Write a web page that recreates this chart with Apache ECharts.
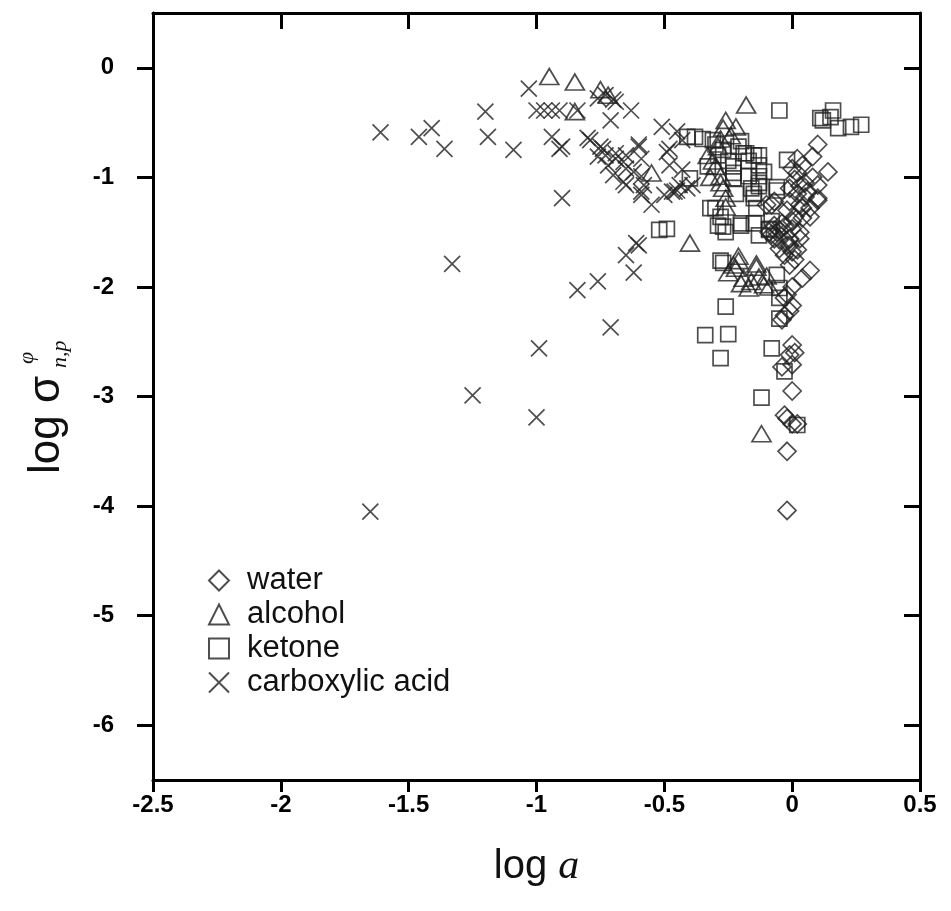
<!DOCTYPE html>
<html>
<head>
<meta charset="utf-8">
<script src="https://cdn.jsdelivr.net/npm/echarts@6/dist/echarts.min.js"></script>
<style>
  html, body { margin: 0; padding: 0; background: #fff; }
  #chart { width: 951px; height: 911px; }
</style>
</head>
<body>
<div id="chart"></div>
<script>
// Tick values for both axes
const xTicks = [-2.5, -2, -1.5, -1, -0.5, 0, 0.5];
const yTicks = [-6, -5, -4, -3, -2, -1, 0];

const seriesNames = ['water', 'alcohol', 'ketone', 'carboxylic acid'];

// [log a, log sigma] pairs per solvent class
const water = [
  [0.10, -0.70], [0.08, -0.81], [0.14, -0.95], [0.04, -0.89], [0.02, -0.96], [0.10, -1.07],
  [0.01, -1.02], [0.10, -1.21], [-0.01, -1.10], [0.06, -1.13], [0.04, -1.28], [0.07, -1.36],
  [0.01, -1.36], [-0.02, -1.30], [-0.04, -1.42], [0.00, -1.47], [-0.06, -1.50], [-0.01, -1.56],
  [0.03, -1.56], [-0.07, -1.56], [0.02, -1.66], [-0.03, -1.71], [0.07, -1.85], [0.04, -1.92],
  [0.00, -2.00], [-0.02, -2.07], [0.00, -2.17], [-0.03, -2.26], [-0.08, -1.25], [0.02, -0.83],
  [0.00, -0.92], [0.08, -1.00], [0.10, -1.19], [0.05, -1.05], [0.03, -1.08], [0.02, -1.15],
  [0.05, -1.18], [-0.01, -1.22], [0.03, -1.25], [0.00, -1.40], [-0.03, -1.45], [-0.05, -1.48],
  [-0.02, -1.62], [-0.05, -1.65], [-0.08, -1.52], [0.01, -1.75], [-0.01, -1.80], [-0.03, -2.10],
  [-0.01, -2.22], [-0.04, -2.30], [-0.07, -1.44], [-0.09, -1.50], [-0.05, -1.57], [0.04, -1.37],
  [0.07, -1.28], [0.03, -1.50], [-0.01, -1.62], [0.00, -1.68], [-0.07, -1.22], [-0.10, -1.25],
  [0.00, -2.53], [0.00, -2.71], [-0.01, -2.62], [-0.04, -2.73], [0.01, -2.60], [0.00, -2.95],
  [-0.02, -3.20], [0.00, -3.25], [0.02, -3.25], [-0.03, -3.17], [-0.02, -3.50], [-0.02, -4.04]
];

const alcohol = [
  [-0.95, -0.08], [-0.85, -0.13], [-0.75, -0.20], [-0.85, -0.40], [-0.72, -0.25],
  [-0.18, -0.34], [-0.26, -0.48], [-0.22, -0.54], [-0.27, -0.55], [-0.24, -0.62],
  [-0.28, -0.65], [-0.29, -0.72], [-0.33, -0.80], [-0.31, -0.85], [-0.30, -0.90],
  [-0.28, -0.99], [-0.32, -1.00], [-0.28, -1.05], [-0.27, -1.10], [-0.26, -1.19],
  [-0.26, -1.27], [-0.55, -0.96], [-0.40, -1.60], [-0.23, -1.80], [-0.22, -1.83],
  [-0.21, -1.76], [-0.25, -1.87], [-0.19, -1.92], [-0.20, -1.97], [-0.17, -2.01],
  [-0.16, -1.95], [-0.14, -1.79], [-0.14, -1.82], [-0.13, -1.91], [-0.11, -1.98],
  [-0.10, -1.90], [-0.09, -2.00], [-0.21, -1.72], [-0.12, -3.34]
];

const ketone = [
  [-0.05, -0.39], [0.11, -0.46], [0.15, -0.45], [0.16, -0.39], [0.18, -0.55], [0.23, -0.54],
  [0.27, -0.52], [0.12, -0.48],
  [-0.38, -0.63], [-0.41, -0.63], [-0.35, -0.65], [-0.31, -0.66], [-0.30, -0.70], [-0.20, -0.67],
  [-0.21, -0.72], [-0.27, -0.75], [-0.19, -0.78], [-0.18, -0.78], [-0.15, -0.80], [-0.13, -0.80],
  [-0.29, -0.80], [-0.25, -0.85], [-0.17, -0.85], [-0.13, -0.89], [-0.23, -0.90], [-0.33, -0.90],
  [-0.11, -0.95], [-0.23, -0.96], [-0.13, -0.99], [-0.17, -0.99], [-0.23, -1.01], [-0.40, -1.01],
  [-0.13, -1.05], [-0.13, -1.08], [-0.06, -1.09], [-0.16, -1.10], [-0.06, -1.12], [-0.15, -1.15],
  [-0.22, -1.15], [-0.15, -1.19], [-0.02, -0.84], [-0.14, -1.28], [-0.32, -1.28], [-0.30, -1.28],
  [-0.28, -1.36], [-0.08, -1.40], [-0.29, -1.44], [-0.20, -1.42], [-0.15, -1.42], [-0.20, -1.44],
  [-0.27, -1.45], [-0.09, -1.47], [-0.09, -1.48], [-0.26, -1.50], [-0.13, -1.53], [-0.52, -1.48],
  [-0.49, -1.47], [-0.28, -1.76], [-0.27, -1.78], [-0.06, -1.89], [-0.05, -2.01], [-0.05, -2.10],
  [-0.26, -2.18], [-0.05, -2.29], [-0.34, -2.44], [-0.25, -2.43], [-0.08, -2.56], [-0.28, -2.65],
  [-0.03, -2.77], [-0.12, -3.01], [0.02, -3.26]
];

const acid = [
  [-1.61, -0.59], [-1.46, -0.63], [-1.41, -0.55], [-1.36, -0.74], [-1.20, -0.40], [-1.19, -0.63],
  [-1.09, -0.75], [-1.03, -0.19], [-1.00, -0.39], [-0.97, -0.39], [-0.94, -0.39], [-0.91, -0.39],
  [-0.94, -0.63], [-0.91, -0.74], [-0.90, -1.19], [-1.33, -1.79], [-0.84, -2.03], [-1.65, -4.05],
  [-0.99, -2.56], [-1.25, -2.99], [-1.00, -3.19], [-0.79, -0.66], [-0.84, -0.39], [-0.60, -1.62],
  [-0.65, -1.71], [-0.62, -1.87], [-0.76, -1.95], [-0.71, -2.37],
  [-0.76, -0.28], [-0.70, -0.29], [-0.73, -0.25], [-0.69, -0.31], [-0.63, -0.39], [-0.71, -0.48],
  [-0.80, -0.64], [-0.90, -0.72], [-0.75, -0.72], [-0.73, -0.80], [-0.76, -0.81], [-0.69, -0.83],
  [-0.65, -0.80], [-0.60, -0.72], [-0.59, -0.83], [-0.74, -0.74], [-0.69, -0.78], [-0.72, -0.89],
  [-0.66, -0.86], [-0.62, -0.95], [-0.70, -0.98], [-0.65, -1.07], [-0.58, -1.07], [-0.59, -1.16],
  [-0.55, -1.25], [-0.49, -0.77], [-0.48, -0.89], [-0.43, -0.93], [-0.50, -1.16], [-0.47, -1.13],
  [-0.45, -1.12], [-0.41, -1.10], [-0.39, -1.07], [-0.51, -0.54], [-0.45, -0.58], [-0.43, -0.66],
  [-0.48, -0.74], [-0.66, -1.04], [-0.59, -0.99], [-0.59, -1.13], [-0.46, -1.13], [-0.44, -1.07],
  [-0.60, -0.70], [-0.65, -0.92], [-0.61, -1.60]
];

const seriesData = [water, alcohol, ketone, acid];
const symbols = ['diamond', 'triangle', 'rect', 'path://M0,0L20,20M20,0L0,20'];
const symbolSizes = [[18, 18], [19, 16], [15, 15], [16, 16]];

const markStyle = {
  color: 'rgba(0,0,0,0)',
  borderColor: '#222',
  borderWidth: 1.7
};

const chart = echarts.init(document.getElementById('chart'), null, { renderer: 'canvas' });

const axisFont = { fontFamily: '"Liberation Sans", Arial, sans-serif', fontWeight: 'bold', fontSize: 24, color: '#000' };
const lineStyle = { color: '#000', width: 3 };

chart.setOption({
  animation: false,
  backgroundColor: '#fff',
  grid: { left: 153, right: 31, top: 13, bottom: 131, containLabel: false },
  xAxis: [
    {
      type: 'value', min: -2.5, max: 0.5, interval: 0.5, position: 'bottom',
      axisLine: { onZero: false, lineStyle: lineStyle },
      axisTick: { inside: false, length: 12, lineStyle: lineStyle, customValues: xTicks },
      axisLabel: Object.assign({ margin: 13, customValues: xTicks }, axisFont),
      splitLine: { show: false },
      name: '{n|log }{i|a}',
      nameLocation: 'middle',
      nameGap: 66,
      nameTextStyle: {
        rich: {
          n: { fontFamily: '"Liberation Sans", Arial, sans-serif', fontSize: 40, color: '#111' },
          i: { fontFamily: '"Liberation Serif", serif', fontStyle: 'italic', fontSize: 42, color: '#111' }
        }
      }
    },
    {
      type: 'value', min: -2.5, max: 0.5, interval: 0.5, position: 'top',
      axisLine: { onZero: false, lineStyle: lineStyle },
      axisTick: { inside: true, length: 16, lineStyle: lineStyle, customValues: xTicks },
      axisLabel: { show: false },
      splitLine: { show: false }
    }
  ],
  yAxis: [
    {
      type: 'value', min: -6.5, max: 0.5, position: 'left',
      axisLine: { onZero: false, lineStyle: lineStyle },
      axisTick: { inside: false, length: 16, lineStyle: lineStyle, customValues: yTicks },
      axisLabel: Object.assign({ margin: 39, customValues: yTicks }, axisFont),
      splitLine: { show: false }
    },
    {
      type: 'value', min: -6.5, max: 0.5, position: 'right',
      axisLine: { onZero: false, lineStyle: lineStyle },
      axisTick: { inside: true, length: 16, lineStyle: lineStyle, customValues: yTicks },
      axisLabel: { show: false },
      splitLine: { show: false }
    }
  ],
  legend: {
    orient: 'vertical',
    left: 203,
    top: 560,
    itemWidth: 20,
    itemHeight: 20,
    itemGap: 3,
    data: seriesNames,
    textStyle: { fontFamily: '"Liberation Sans", Arial, sans-serif', fontSize: 31, lineHeight: 31, color: '#111', padding: [0, 0, 0, 13] }
  },
  graphic: [
    {
      type: 'group',
      x: 47,
      y: 474,
      rotation: Math.PI / 2,
      children: [
        {
          type: 'text', x: 0, y: 0,
          style: { text: 'log σ', font: '44px "Liberation Sans", Arial, sans-serif', fill: '#111',
                   textAlign: 'left', textVerticalAlign: 'middle', align: 'left', verticalAlign: 'middle' }
        },
        {
          type: 'text', x: 110, y: -20,
          style: { text: 'φ', font: 'italic 22px "Liberation Serif", serif', fill: '#111',
                   textAlign: 'left', textVerticalAlign: 'middle', align: 'left', verticalAlign: 'middle' }
        },
        {
          type: 'text', x: 106, y: 13,
          style: { text: 'n,p', font: 'italic 22px "Liberation Serif", serif', fill: '#111',
                   textAlign: 'left', textVerticalAlign: 'middle', align: 'left', verticalAlign: 'middle' }
        }
      ]
    }
  ],
  series: seriesNames.map(function (name, i) {
    return {
      name: name,
      type: 'scatter',
      xAxisIndex: 0,
      yAxisIndex: 0,
      symbol: symbols[i],
      symbolSize: symbolSizes[i],
      itemStyle: markStyle,
      emphasis: { disabled: true },
      data: seriesData[i]
    };
  })
});
</script>
</body>
</html>
